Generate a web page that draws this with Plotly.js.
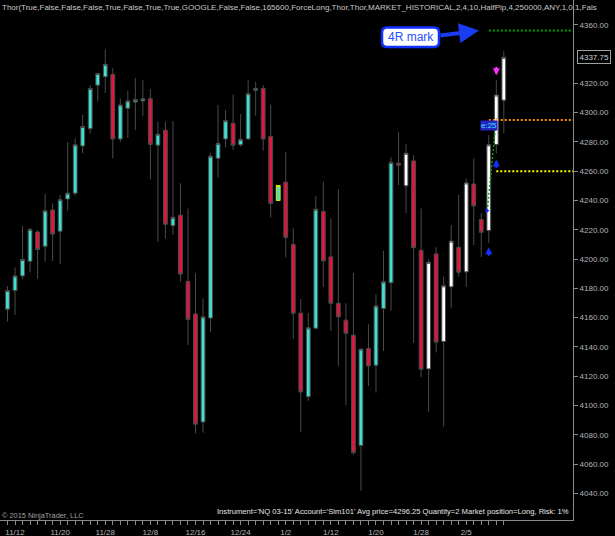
<!DOCTYPE html>
<html>
<head>
<meta charset="utf-8">
<script src="https://cdn.plot.ly/plotly-3.0.1.min.js"></script>
<style>html,body{margin:0;padding:0;background:#000;}#chart{width:615px;height:536px;}</style>
</head>
<body>
<div id="chart"></div>
<script>
// ---- Data (NQ 03-15 daily bars) ----
const openP = [4165.75,4178.5,4188.5,4198.5,4218.5,4208.75,4233.5,4219,4241,4245,
  4277.25,4289,4318.75,4324.5,4326,4282,4303,4307.25,4308,4309.5,
  4277.75,4288,4222.75,4230,4184.75,4162.5,4088.75,4159.75,4268.75,4282,
  4292.75,4278,4282,4315.25,4316.5,4283.75,4240,4252.5,4210,4163,
  4106,4152.75,4232.5,4201.5,4169.75,4158.25,4148,4072.75,4139,4127.5,
  4166.25,4183.75,4265.5,4250,4267,4206,4125,4203.5,4143.75,4181,
  4208,4191.25,4251.25,4227,4219.5,4278.25,4308.5];
const highP = [4181.5,4194.25,4222.5,4221,4219.75,4244.5,4238,4243.75,4280,4282.5,
  4298.5,4318.75,4327,4343.25,4330.5,4309.75,4315,4323.75,4322.25,4316,
  4293.75,4293.75,4294.25,4251.75,4234.5,4190.25,4173.25,4272.5,4305.25,4301.75,
  4312.25,4299,4322.25,4321,4318.75,4305.5,4250.25,4273.25,4221,4172.75,
  4163.25,4243,4252.75,4227.75,4247.75,4169.75,4190.5,4138.5,4155.5,4176,
  4205.5,4269.5,4286.5,4278.5,4271,4234.5,4200,4208,4188,4223.25,
  4243.75,4255,4268.75,4231.5,4284.75,4322.25,4342];
const lowP = [4157.25,4161.75,4186.25,4191,4186.5,4198.25,4198.75,4196.75,4233,4243.25,
  4272.25,4285.75,4307.5,4313.5,4268.75,4280,4282.75,4288,4297.75,4254.5,
  4211.75,4214,4216.5,4184.5,4141.25,4081,4081.5,4150,4255.5,4276.25,
  4274.5,4276.75,4281.5,4298,4274,4228.25,4240,4201.25,4145.25,4082,
  4103.25,4152.5,4181,4150.75,4127,4100.25,4066.25,4041.75,4113.25,4108.75,
  4137.25,4164.75,4250.5,4231.5,4142.75,4119.5,4095.75,4136.25,4085.5,4166.25,
  4188,4181,4209.5,4201.5,4211,4272.25,4285.75];
const closeP = [4178.5,4188.5,4199.75,4220.25,4206.5,4233,4217,4240.5,4245,4278,
  4290.5,4316.5,4326.75,4333,4282,4305.25,4308,4309,4309.5,4278.25,
  4285.25,4223.75,4228.5,4189.75,4158.75,4087.25,4160.5,4270.25,4279,4294.5,
  4277.75,4281.75,4313,4316.5,4282,4238,4250.25,4214.75,4163,4109.25,
  4153,4234,4198.75,4169.75,4160.5,4149.25,4067.75,4138.5,4127,4168,
  4184.5,4266,4264,4272.25,4207.75,4124.75,4197.75,4143.25,4181.75,4212.25,
  4191,4252,4236.25,4218.25,4278,4312,4337.75];
// bars painted white by the strategy, and the highlighted (yellow-outlined) bar
const paintedBars = [53,56,58,59,61,64,65,66];
const signalBar = 36;
// x-axis date labels and the bar each sits under
const dateLabels = ['11/12','11/20','11/28','12/8','12/16','12/24','1/2','1/12','1/20','1/28','2/5'];
const dateLabelBars = [1,7,13,19,25,31,37,43,49,55,61];
// y-axis tick values (4340 is hidden behind the last-price marker)
const priceTicks = [4040,4060,4080,4100,4120,4140,4160,4180,4200,4220,4240,4260,4280,4300,4320,4360];
// strategy levels
const targetPrice = 4356;   // 4R mark
const entryPrice = 4295;
const stopPrice = 4260;
const lastPrice = 4337.75;
const titleText = 'Thor(True,False,False,False,True,False,True,True,GOOGLE,False,False,165600,ForceLong,Thor,Thor,MARKET_HISTORICAL,2,4,10,HalfPip,4,250000,ANY,1,0.1,Fals';
const statusText = "Instrument='NQ 03-15' Account='Sim101' Avg price=4296.25 Quantity=2 Market position=Long, Risk: 1%";
const copyText = '\u00a9 2015 NinjaTrader, LLC';

// ---- Build traces ----
const idx = openP.map((_, i) => i);
function subset(pred) {
  const s = idx.filter(pred);
  return {x: s, open: s.map(i => openP[i]), high: s.map(i => highP[i]),
          low: s.map(i => lowP[i]), close: s.map(i => closeP[i])};
}
const WICK = '#4a4a4a';
const TURQ = '#40E0D0';
const CRIM = '#E0163E';
const base = {type: 'candlestick', hoverinfo: 'skip', whiskerwidth: 0, showlegend: false};

const mainT = Object.assign({}, base, subset(i => !paintedBars.includes(i) && i !== signalBar), {
  increasing: {fillcolor: TURQ, line: {color: WICK, width: 1}},
  decreasing: {fillcolor: CRIM, line: {color: WICK, width: 1}}
});
const whiteT = Object.assign({}, base, subset(i => paintedBars.includes(i)), {
  increasing: {fillcolor: '#ffffff', line: {color: WICK, width: 1}},
  decreasing: {fillcolor: '#ffffff', line: {color: WICK, width: 1}}
});
const sigT = Object.assign({}, base, subset(i => i === signalBar), {
  increasing: {fillcolor: TURQ, line: {color: '#e8e800', width: 1}},
  decreasing: {fillcolor: TURQ, line: {color: '#e8e800', width: 1}}
});

// trade path markers
const entryBar = paintedBars[5]; // bar 64
const pathT = {type: 'scatter', mode: 'lines', x: [entryBar - 0.2, entryBar + 1], y: [4233, entryPrice + 1],
  line: {color: '#00a000', width: 1.5, dash: '2px,2px'}, hoverinfo: 'skip', showlegend: false};
const pathMk = {type: 'scatter', mode: 'markers', x: [entryBar - 0.25], y: [4233],
  marker: {symbol: 'triangle-right', size: 5, color: '#1030ff'}, hoverinfo: 'skip', showlegend: false};

const tickVals = idx.slice();
const tickText = idx.map(i => { const k = dateLabelBars.indexOf(i); return k >= 0 ? dateLabels[k] : ''; });

const FONT = 'Liberation Sans, Arial, sans-serif';

// rounded box for "4R mark" (paper coords)
function rrect(x0, y0, x1, y1, rx, ry) {
  return `M${x0+rx},${y0} L${x1-rx},${y0} Q${x1},${y0} ${x1},${y0+ry} L${x1},${y1-ry} Q${x1},${y1} ${x1-rx},${y1} ` +
         `L${x0+rx},${y1} Q${x0},${y1} ${x0},${y1-ry} L${x0},${y0+ry} Q${x0},${y0} ${x0+rx},${y0} Z`;
}
function sigArrow(x, y, ay, color) {
  return {xref: 'x', yref: 'y', x: x, y: y, ax: 0, ay: ay, text: '', showarrow: true,
          arrowhead: 2, arrowsize: 0.7, arrowwidth: 2, arrowcolor: color, standoff: 0};
}

const layout = {
  width: 615, height: 536,
  margin: {l: 0, r: 42, t: 0, b: 16, pad: 0},
  paper_bgcolor: '#000', plot_bgcolor: '#000',
  font: {family: FONT, size: 8, color: '#b4b4b4'},
  boxgap: 0.28,
  xaxis: {
    range: [-0.997, 75.2], rangeslider: {visible: false}, showgrid: false, zeroline: false,
    tickmode: 'array', tickvals: tickVals, ticktext: tickText, ticks: 'outside', ticklen: 4,
    tickcolor: '#8a8a8a', showline: true, linecolor: '#8a8a8a', linewidth: 1,
    tickfont: {family: FONT, size: 8, color: '#b4b4b4'}, fixedrange: true
  },
  yaxis: {
    range: [4021.8, 4376.9], side: 'right', showgrid: false, zeroline: false,
    tickmode: 'array', tickvals: priceTicks, tickformat: '.2f', ticks: 'outside', ticklen: 4,
    tickcolor: '#8a8a8a', showline: true, linecolor: '#8a8a8a', linewidth: 1,
    tickfont: {family: FONT, size: 8, color: '#b4b4b4'}, fixedrange: true
  },
  shapes: [
    {type: 'line', xref: 'x', yref: 'y', x0: entryBar, x1: 75.2, y0: targetPrice, y1: targetPrice,
     line: {color: '#00a000', width: 2, dash: '2px,2px'}},
    {type: 'line', xref: 'x', yref: 'y', x0: entryBar, x1: 75.2, y0: entryPrice, y1: entryPrice,
     line: {color: '#ff8c00', width: 2, dash: '2px,2px'}},
    {type: 'line', xref: 'x', yref: 'y', x0: entryBar + 1, x1: 75.2, y0: stopPrice, y1: stopPrice,
     line: {color: '#ffff00', width: 2, dash: '2px,2px'}},
    {type: 'path', xref: 'paper', yref: 'paper',
     path: rrect(382/573, 1 - 47/520, 439/573, 1 - 27.5/520, 5/573, 5/520),
     fillcolor: '#ffffff', line: {color: '#1030ff', width: 2.5}}
  ],
  annotations: [
    {xref: 'paper', yref: 'paper', x: 0, y: 1, xanchor: 'left', yanchor: 'top', showarrow: false,
     text: titleText, font: {family: FONT, size: 8, color: '#c8c8c8'}, yshift: -1},
    {xref: 'paper', yref: 'paper', x: 0, y: 1 - 515.5/520, xanchor: 'left', yanchor: 'middle', showarrow: false,
     text: copyText, font: {family: FONT, size: 7.4, color: '#a0a0a0'}},
    {xref: 'paper', yref: 'paper', x: 571/573, y: 1 - 511.5/520, xanchor: 'right', yanchor: 'middle', showarrow: false,
     text: statusText, font: {family: FONT, size: 7.6, color: '#e6e6e6'}},
    {xref: 'paper', yref: 'paper', x: 410.5/573, y: 1 - 37.5/520, xanchor: 'center', yanchor: 'middle', showarrow: false,
     text: '4R mark', font: {family: FONT, size: 12, color: '#2a50ff'}},
    {xref: 'x', yref: 'y', x: 62.7, y: targetPrice, ax: -40, ay: 5, axref: 'pixel', ayref: 'pixel',
     text: '', showarrow: true, arrowhead: 2, arrowsize: 1, arrowwidth: 4, arrowcolor: '#1a3cf0', standoff: 0},
    sigArrow(entryBar, 4208, 10, '#1030ff'),
    sigArrow(entryBar + 1, 4268, 10, '#1030ff'),
    sigArrow(entryBar + 1, 4325.5, -10, '#ff30ff'),
    {xref: 'x', yref: 'y', x: entryBar, y: 4291.2, showarrow: false, text: 'e:25',
     bgcolor: '#2424c0', borderpad: 0, font: {family: FONT, size: 8, color: '#40e0ff'}},
    {xref: 'paper', yref: 'y', x: 1, y: lastPrice, xanchor: 'left', yanchor: 'middle', xshift: 4,
     showarrow: false, text: lastPrice.toFixed(2), bgcolor: '#000', bordercolor: '#a0a0a0', borderwidth: 1,
     borderpad: 1.5, font: {family: FONT, size: 8, color: '#d0d0d0'}}
  ]
};

Plotly.newPlot('chart', [mainT, whiteT, sigT, pathT, pathMk], layout, {staticPlot: true, displayModeBar: false});
</script>
</body>
</html>
